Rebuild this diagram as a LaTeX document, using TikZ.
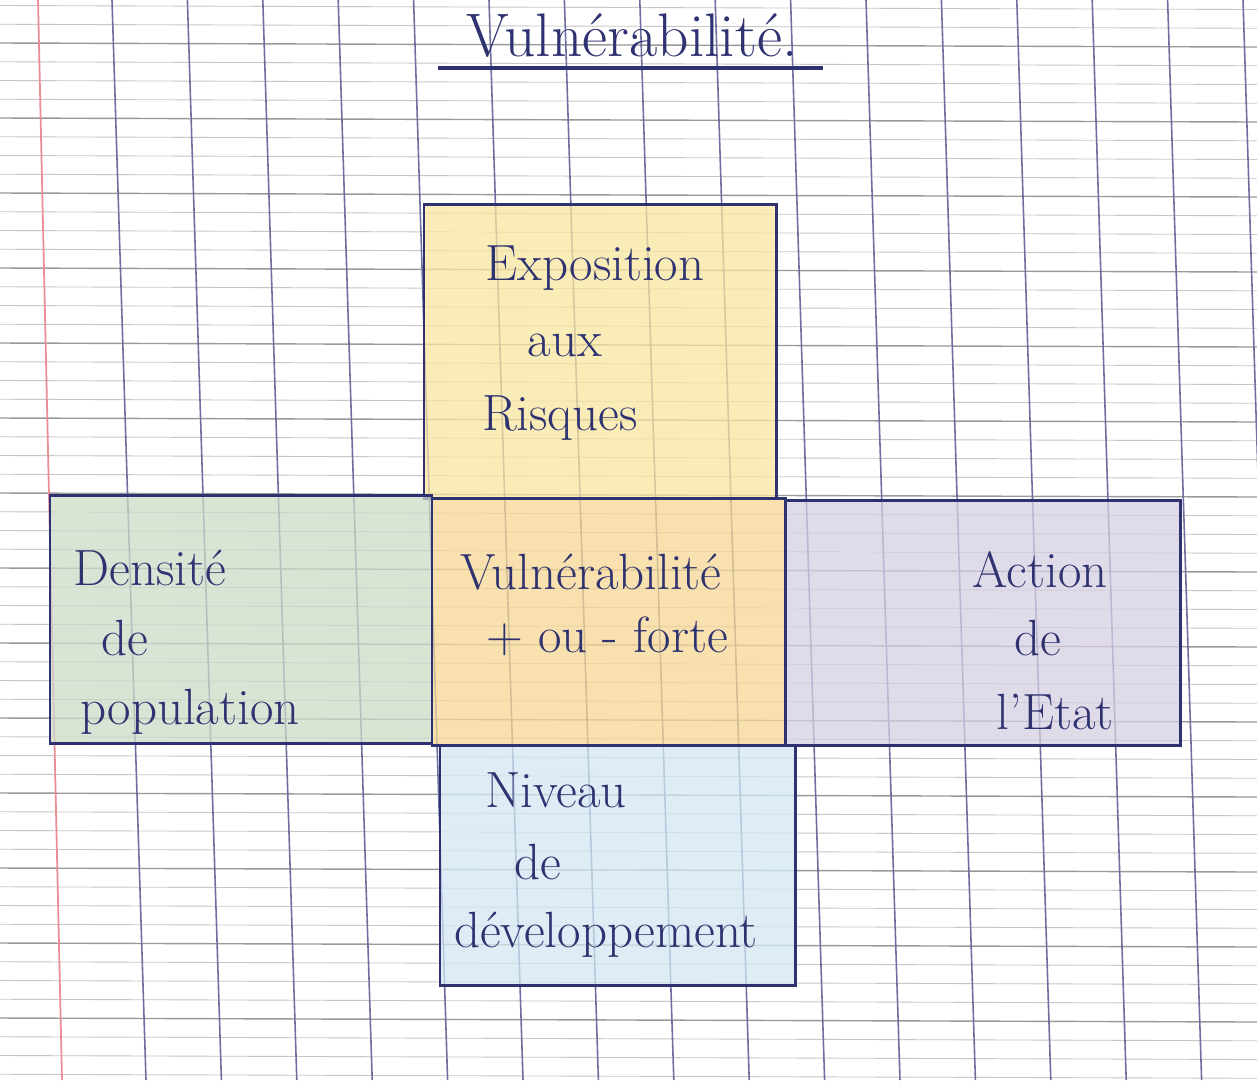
\documentclass[tikz,border=0pt]{standalone}
\usepackage{amsmath,amsfonts,amssymb}
\usepackage{tikz}
\usetikzlibrary{fit}
\definecolor{ink}{HTML}{2E3270}
\definecolor{jaune}{HTML}{F8E6A0}
\definecolor{orangec}{HTML}{F6D894}
\definecolor{vert}{HTML}{CDDBC8}
\definecolor{violet}{HTML}{D6CFE2}
\definecolor{bleu}{HTML}{D3E8F2}
\tikzstyle{light}     = [draw=black!22, line width=0.5pt]
\tikzstyle{dark}      = [draw=black!40, line width=0.8pt]
\tikzstyle{vline}     = [draw={rgb,255:red,110;green,110;blue,160}, line width=0.9pt]
\tikzstyle{marge}     = [draw={rgb,255:red,235;green,140;blue,150}, line width=1pt]
\tikzstyle{box}       = [draw=ink, line width=1.7pt, inner sep=0pt, fill opacity=0.75]
\tikzstyle{txt}       = [ink, inner sep=0pt, font=\fontsize{29}{34}\selectfont]

\begin{document}
\begin{tikzpicture}[x=0.02cm,y=-0.02cm]
           \useasboundingbox[fill=white](0,0) rectangle (1257,1080);
           % papier a carreaux
           \foreach \k in {-2,...,55}{
             \pgfmathsetmacro\yy{43+18.75*\k}
             \pgfmathtruncatemacro\m{mod(\k+4,4)}
             \ifnum\m=0 \draw[dark](0,\yy)--(1257,\yy+4);
             \else \draw[light](0,\yy)--(1257,\yy+4); \fi
           }
           \foreach \k in {0,...,15}
             \draw[vline](112+75.4*\k, 0)--++(34, 1080);
           \draw[marge](38, 0)--(62, 1080);

           % les cases
           \node[box, fill=jaune, fit={(424,204)(776,498)}](expo){};
           \node[box, fill=vert, fit={(50,495)(432,743)}](dens){};
           \node[box, fill=orangec, fit={(432,498)(785,745)}](vuln){};
           \node[box, fill=violet, fit={(785,500)(1180,745)}](action){};
           \node[box, fill=bleu, fit={(440,745)(795,985)}](niveau){};

           % titre
           \node[txt, font=\fontsize{35}{40}\selectfont](titre)at(632, 36){Vulnérabilité.};
           \draw[ink, line width=2pt](438, 68)--(823, 68);

           \node[txt](a)at(595, 268){Exposition};
           \node[txt](b)at(565, 345){aux};
           \node[txt](c)at(560, 418){Risques};

           \node[txt](d)at(150, 568){Densité};
           \node[txt](e)at(125, 638){de};
           \node[txt](f)at(190, 712){population};

           \node[txt](g)at(591, 572){Vulnérabilité};
           \node[txt](h)at(607, 636){+ ou - forte};

           \node[txt](i)at(1040, 570){Action};
           \node[txt](j)at(1038, 638){de};
           \node[txt](k)at(1055, 712){l'Etat};

           \node[txt](m)at(556, 790){Niveau};
           \node[txt](n)at(538, 862){de};
           \node[txt](o)at(606, 935){développement};
       \end{tikzpicture}
\end{document}
